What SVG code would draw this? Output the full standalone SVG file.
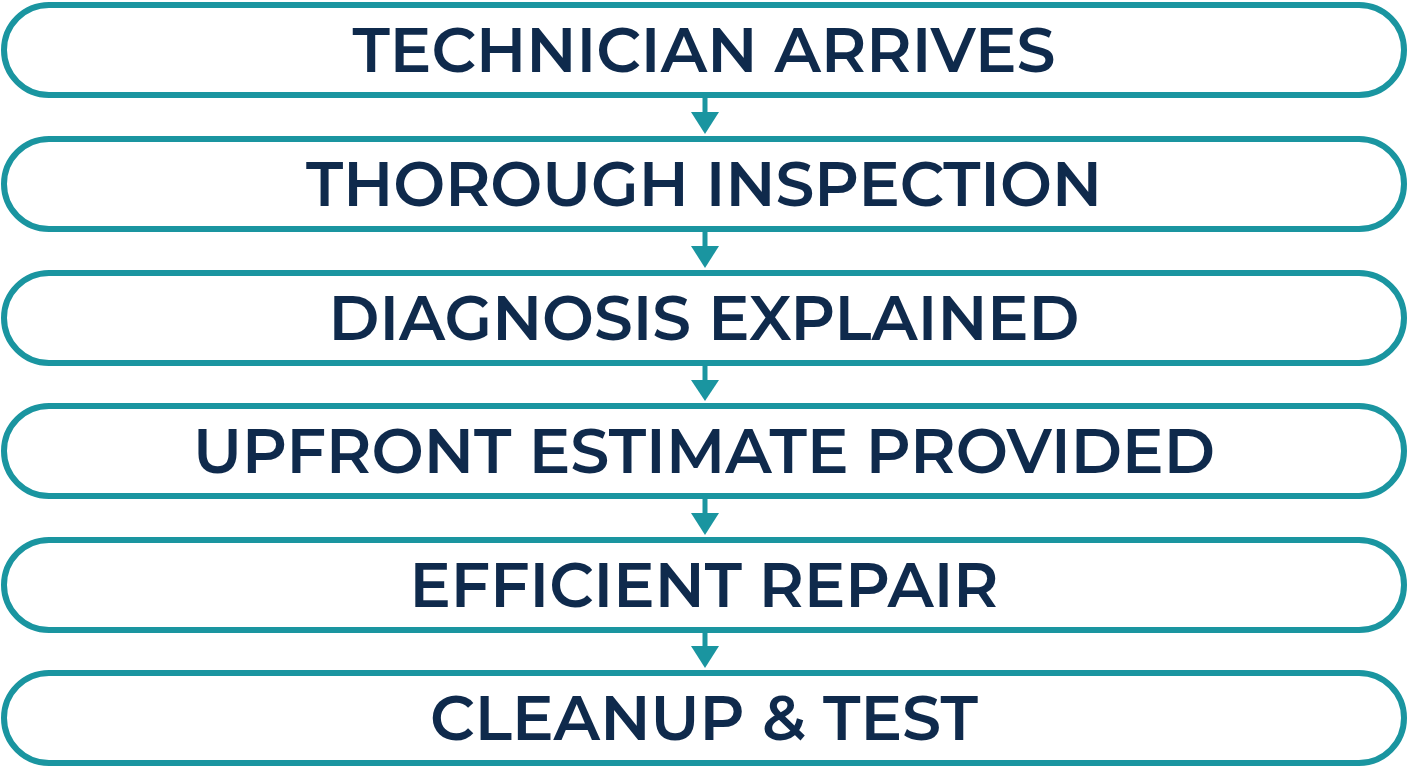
<svg xmlns="http://www.w3.org/2000/svg" width="1408" height="768" viewBox="0 0 1408 768">
<style>
.box{fill:#ffffff;stroke:#1a95a0;stroke-width:6}
.lbl{font-family:Montserrat,"Open Sans","Liberation Sans",sans-serif;font-weight:600;font-size:62px;fill:#0f2a4c;text-anchor:middle}
.con line{stroke:#1a95a0;stroke-width:5}
.con polygon{fill:#1a95a0}
</style>
<rect width="1408" height="768" fill="#ffffff"/>
<g class="con" id="connectors">
<line x1="705" y1="96" x2="705" y2="116"/><polygon points="691,112 719,112 705,134"/>
<line x1="705" y1="230" x2="705" y2="250"/><polygon points="691,246 719,246 705,268"/>
<line x1="705" y1="364" x2="705" y2="384"/><polygon points="691,380 719,380 705,401"/>
<line x1="705" y1="497" x2="705" y2="517"/><polygon points="691,513 719,513 705,535"/>
<line x1="705" y1="631" x2="705" y2="650"/><polygon points="691,646 719,646 705,668"/>
</g>
<g id="n1"><rect class="box" x="4" y="5" width="1400" height="90" rx="45"/><text class="lbl" x="704" y="72" textLength="703" lengthAdjust="spacingAndGlyphs">TECHNICIAN ARRIVES</text></g>
<g id="n2"><rect class="box" x="4" y="139" width="1400" height="90" rx="45"/><text class="lbl" x="704" y="206" textLength="796" lengthAdjust="spacingAndGlyphs">THOROUGH INSPECTION</text></g>
<g id="n3"><rect class="box" x="4" y="273" width="1400" height="90" rx="45"/><text class="lbl" x="704" y="340" textLength="751" lengthAdjust="spacingAndGlyphs">DIAGNOSIS EXPLAINED</text></g>
<g id="n4"><rect class="box" x="4" y="406" width="1400" height="90" rx="45"/><text class="lbl" x="704" y="473" textLength="1022" lengthAdjust="spacingAndGlyphs">UPFRONT ESTIMATE PROVIDED</text></g>
<g id="n5"><rect class="box" x="4" y="540" width="1400" height="90" rx="45"/><text class="lbl" x="704" y="607" textLength="589" lengthAdjust="spacingAndGlyphs">EFFICIENT REPAIR</text></g>
<g id="n6"><rect class="box" x="4" y="673" width="1400" height="90" rx="45"/><text class="lbl" x="704" y="740" textLength="548" lengthAdjust="spacingAndGlyphs">CLEANUP &amp; TEST</text></g>
</svg>
